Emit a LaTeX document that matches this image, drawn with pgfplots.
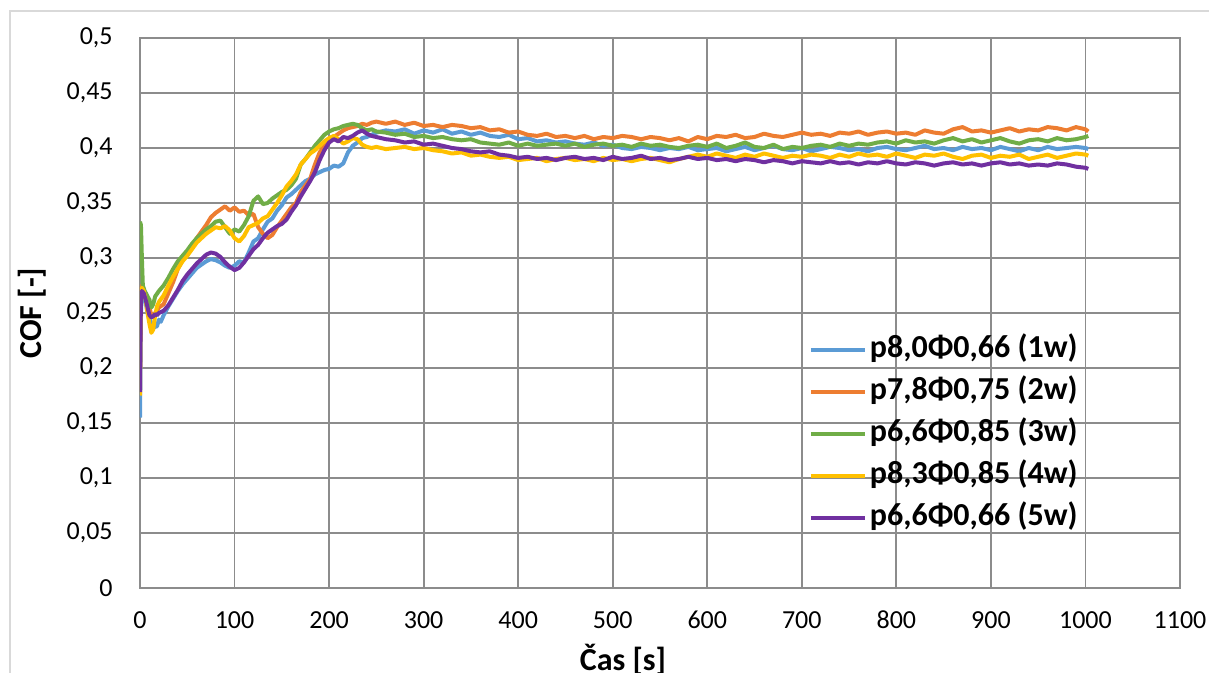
\documentclass[border=0pt]{standalone}
\usepackage{fontspec}
\setmainfont{Carlito}
\usepackage{pgfplots}
\pgfplotsset{compat=1.18}
\definecolor{c1}{HTML}{5B9BD5}
\definecolor{c2}{HTML}{ED7D31}
\definecolor{c3}{HTML}{70AD47}
\definecolor{c4}{HTML}{FFC000}
\definecolor{c5}{HTML}{7030A0}
\definecolor{gridc}{HTML}{8C8C8C}
\definecolor{borderc}{HTML}{D9D9D9}
\begin{document}
\begin{tikzpicture}
\path[use as bounding box] (-70pt,-42.5pt) rectangle (534.5pt,294pt);
\draw[borderc, line width=0.8pt] (-65pt,-60pt) -- (-65pt,288.5pt) -- (560pt,288.5pt);
\begin{axis}[
  at={(0,0)}, anchor=south west,
  scale only axis, width=520pt, height=275pt,
  xmin=0, xmax=1100, ymin=0, ymax=0.5,
  xtick={0,100,...,1100},
  ytick={0,0.05,0.1,0.15,0.2,0.25,0.3,0.35,0.4,0.45,0.5},
  grid=major,
  grid style={gridc, line width=0.9pt},
  axis line style={gridc, line width=0.9pt},
  major tick length=0pt,
  /pgf/number format/assume math mode=true,
  /pgf/number format/1000 sep={},
  yticklabel style={/pgf/number format/.cd, fixed, precision=2, use comma, /tikz/.cd, inner sep=0pt, anchor=east, xshift=-13.5pt},
  xticklabel style={inner sep=0pt, anchor=center, yshift=-16pt},
  tick label style={font=\fontsize{13}{15}\selectfont},
  xlabel={\textbf{Čas [s]}},
  ylabel={\textbf{COF [-]}},
  label style={font=\fontsize{16}{19}\selectfont},
  xlabel style={at={(axis description cs:0.4644,0)}, anchor=center, yshift=-36pt, inner sep=0pt},
  ylabel style={at={(axis description cs:-0.1038,0.5)}, anchor=center, inner sep=0pt},
  legend style={at={(0.637,0.47)}, anchor=north west, draw=none, fill=none,
    font=\bfseries\fontsize{16}{19}\selectfont,
    nodes={inner xsep=1.5pt, inner ysep=0pt, text height=12pt, text depth=4pt},
    row sep=5pt},
  legend cell align=left,
  legend image code/.code={\draw[#1, line width=2pt] (0pt,0pt) -- (27pt,0pt);},
  every axis plot/.append style={line width=2pt, line join=round},
]
\addplot[c1] coordinates {
(0,0.155)(1,0.25)(2,0.27)(4,0.268)(6,0.26)(8,0.25)(10,0.245)(12,0.24)(15,0.237)(18,0.238)(20,0.244)(22,0.242)(25,0.248)(30,0.256)(35,0.263)(40,0.27)(45,0.276)(50,0.281)(55,0.286)(60,0.291)(65,0.294)(70,0.297)(75,0.299)(80,0.298)(85,0.296)(90,0.293)(95,0.291)(100,0.293)(105,0.297)(110,0.296)(115,0.305)(120,0.315)(125,0.318)(130,0.326)(135,0.333)(140,0.336)(145,0.343)(150,0.348)(155,0.355)(160,0.358)(165,0.362)(170,0.366)(175,0.37)(180,0.372)(185,0.376)(190,0.378)(195,0.380)(200,0.381)(205,0.384)(210,0.383)(215,0.386)(220,0.396)(225,0.402)(230,0.405)(235,0.409)(240,0.41)(245,0.412)(250,0.414)(260,0.416)(270,0.415)(280,0.417)(290,0.413)(300,0.416)(310,0.414)(320,0.417)(330,0.413)(340,0.415)(350,0.412)(360,0.414)(370,0.411)(380,0.41)(390,0.412)(400,0.408)(410,0.409)(420,0.406)(430,0.407)(440,0.405)(450,0.406)(460,0.404)(470,0.403)(480,0.405)(490,0.402)(500,0.403)(510,0.4)(520,0.399)(530,0.401)(540,0.4)(550,0.398)(560,0.4)(570,0.399)(580,0.401)(590,0.398)(600,0.399)(610,0.4)(620,0.397)(630,0.399)(640,0.401)(650,0.398)(660,0.4)(670,0.402)(680,0.399)(690,0.398)(700,0.4)(710,0.397)(720,0.399)(730,0.401)(740,0.4)(750,0.398)(760,0.399)(770,0.397)(780,0.4)(790,0.401)(800,0.399)(810,0.398)(820,0.4)(830,0.402)(840,0.399)(850,0.4)(860,0.398)(870,0.401)(880,0.399)(890,0.4)(900,0.398)(910,0.401)(920,0.399)(930,0.397)(940,0.4)(950,0.398)(960,0.401)(970,0.399)(980,0.4)(990,0.401)(1000,0.4)(1003,0.399)
};
\addlegendentry{p8,0Φ0,66 (1w)}
\addplot[c2] coordinates {
(0,0.27)(2,0.275)(4,0.27)(6,0.268)(8,0.262)(10,0.255)(12,0.248)(14,0.246)(16,0.25)(18,0.252)(20,0.255)(25,0.258)(30,0.268)(35,0.278)(40,0.29)(45,0.298)(50,0.304)(55,0.31)(60,0.318)(65,0.324)(70,0.33)(75,0.337)(80,0.341)(85,0.344)(90,0.347)(95,0.343)(100,0.346)(105,0.342)(110,0.343)(115,0.339)(120,0.34)(125,0.328)(130,0.322)(135,0.318)(140,0.321)(145,0.328)(150,0.334)(155,0.34)(160,0.346)(165,0.35)(170,0.36)(175,0.366)(180,0.372)(185,0.385)(190,0.396)(195,0.402)(200,0.407)(205,0.41)(210,0.413)(215,0.416)(220,0.418)(225,0.419)(230,0.42)(235,0.422)(240,0.421)(245,0.423)(250,0.424)(260,0.422)(270,0.424)(280,0.421)(290,0.423)(300,0.42)(310,0.421)(320,0.419)(330,0.421)(340,0.42)(350,0.418)(360,0.419)(370,0.416)(380,0.417)(390,0.414)(400,0.415)(410,0.412)(420,0.411)(430,0.413)(440,0.41)(450,0.411)(460,0.409)(470,0.411)(480,0.408)(490,0.41)(500,0.409)(510,0.411)(520,0.41)(530,0.408)(540,0.41)(550,0.409)(560,0.407)(570,0.409)(580,0.406)(590,0.41)(600,0.408)(610,0.411)(620,0.41)(630,0.412)(640,0.409)(650,0.41)(660,0.413)(670,0.411)(680,0.41)(690,0.412)(700,0.414)(710,0.412)(720,0.413)(730,0.411)(740,0.414)(750,0.413)(760,0.415)(770,0.412)(780,0.414)(790,0.415)(800,0.413)(810,0.414)(820,0.412)(830,0.416)(840,0.414)(850,0.413)(860,0.417)(870,0.419)(880,0.415)(890,0.416)(900,0.414)(910,0.416)(920,0.418)(930,0.415)(940,0.417)(950,0.416)(960,0.419)(970,0.418)(980,0.416)(990,0.419)(1000,0.417)(1003,0.415)
};
\addlegendentry{p7,8Φ0,75 (2w)}
\addplot[c3] coordinates {
(0,0.333)(1,0.33)(2,0.3)(3,0.275)(5,0.27)(8,0.265)(10,0.262)(12,0.255)(14,0.258)(16,0.265)(20,0.27)(25,0.275)(30,0.282)(35,0.29)(40,0.297)(45,0.302)(50,0.307)(55,0.313)(60,0.318)(65,0.322)(70,0.326)(75,0.329)(80,0.333)(85,0.334)(90,0.328)(95,0.322)(100,0.326)(105,0.324)(110,0.33)(115,0.338)(120,0.352)(125,0.356)(130,0.349)(135,0.35)(140,0.354)(145,0.357)(150,0.36)(155,0.362)(160,0.366)(165,0.372)(170,0.385)(175,0.39)(180,0.396)(185,0.402)(190,0.407)(195,0.412)(200,0.415)(205,0.417)(210,0.418)(215,0.42)(220,0.421)(225,0.422)(230,0.421)(235,0.418)(240,0.416)(245,0.417)(250,0.415)(260,0.414)(270,0.412)(280,0.413)(290,0.41)(300,0.411)(310,0.409)(320,0.41)(330,0.408)(340,0.407)(350,0.408)(360,0.405)(370,0.404)(380,0.403)(390,0.405)(400,0.402)(410,0.404)(420,0.402)(430,0.403)(440,0.404)(450,0.402)(460,0.404)(470,0.401)(480,0.403)(490,0.404)(500,0.402)(510,0.403)(520,0.401)(530,0.404)(540,0.402)(550,0.403)(560,0.401)(570,0.4)(580,0.402)(590,0.403)(600,0.401)(610,0.404)(620,0.4)(630,0.402)(640,0.405)(650,0.401)(660,0.4)(670,0.403)(680,0.399)(690,0.401)(700,0.4)(710,0.402)(720,0.403)(730,0.401)(740,0.404)(750,0.402)(760,0.404)(770,0.403)(780,0.405)(790,0.406)(800,0.404)(810,0.407)(820,0.405)(830,0.406)(840,0.404)(850,0.407)(860,0.409)(870,0.406)(880,0.408)(890,0.405)(900,0.407)(910,0.409)(920,0.406)(930,0.404)(940,0.407)(950,0.408)(960,0.406)(970,0.409)(980,0.407)(990,0.408)(1000,0.41)(1003,0.411)
};
\addlegendentry{p6,6Φ0,85 (3w)}
\addplot[c4] coordinates {
(0,0.175)(1,0.27)(2,0.273)(4,0.27)(6,0.262)(8,0.25)(10,0.24)(12,0.232)(14,0.235)(16,0.248)(18,0.256)(20,0.26)(25,0.266)(30,0.275)(35,0.283)(40,0.29)(45,0.297)(50,0.302)(55,0.308)(60,0.314)(65,0.318)(70,0.322)(75,0.325)(80,0.328)(85,0.327)(90,0.329)(95,0.325)(100,0.318)(105,0.315)(110,0.32)(115,0.328)(120,0.33)(125,0.332)(130,0.336)(135,0.338)(140,0.344)(145,0.35)(150,0.357)(155,0.365)(160,0.37)(165,0.376)(170,0.385)(175,0.39)(180,0.395)(185,0.398)(190,0.402)(195,0.406)(200,0.409)(205,0.411)(210,0.408)(215,0.404)(220,0.406)(225,0.409)(230,0.408)(235,0.403)(240,0.401)(245,0.4)(250,0.401)(260,0.399)(270,0.4)(280,0.401)(290,0.399)(300,0.4)(310,0.398)(320,0.397)(330,0.395)(340,0.396)(350,0.393)(360,0.394)(370,0.392)(380,0.391)(390,0.392)(400,0.389)(410,0.39)(420,0.391)(430,0.388)(440,0.39)(450,0.391)(460,0.389)(470,0.39)(480,0.388)(490,0.391)(500,0.389)(510,0.39)(520,0.388)(530,0.39)(540,0.391)(550,0.389)(560,0.387)(570,0.39)(580,0.392)(590,0.394)(600,0.392)(610,0.395)(620,0.393)(630,0.391)(640,0.394)(650,0.392)(660,0.395)(670,0.393)(680,0.391)(690,0.393)(700,0.392)(710,0.394)(720,0.393)(730,0.391)(740,0.394)(750,0.392)(760,0.395)(770,0.393)(780,0.394)(790,0.392)(800,0.395)(810,0.393)(820,0.391)(830,0.394)(840,0.393)(850,0.395)(860,0.392)(870,0.39)(880,0.393)(890,0.394)(900,0.391)(910,0.393)(920,0.392)(930,0.394)(940,0.39)(950,0.392)(960,0.394)(970,0.391)(980,0.393)(990,0.395)(1000,0.394)(1003,0.393)
};
\addlegendentry{p8,3Φ0,85 (4w)}
\addplot[c5] coordinates {
(0,0.178)(1,0.265)(2,0.27)(4,0.268)(6,0.262)(8,0.255)(10,0.248)(12,0.246)(14,0.247)(16,0.249)(18,0.248)(20,0.25)(25,0.252)(30,0.257)(35,0.264)(40,0.271)(45,0.279)(50,0.285)(55,0.29)(60,0.295)(65,0.299)(70,0.303)(75,0.305)(80,0.304)(85,0.301)(90,0.296)(95,0.292)(100,0.289)(105,0.291)(110,0.296)(115,0.302)(120,0.308)(125,0.312)(130,0.318)(135,0.323)(140,0.326)(145,0.329)(150,0.331)(155,0.335)(160,0.342)(165,0.348)(170,0.356)(175,0.363)(180,0.37)(185,0.378)(190,0.389)(195,0.398)(200,0.405)(205,0.408)(210,0.406)(215,0.41)(220,0.409)(225,0.411)(230,0.414)(235,0.416)(240,0.413)(245,0.411)(250,0.41)(260,0.408)(270,0.407)(280,0.405)(290,0.406)(300,0.403)(310,0.404)(320,0.402)(330,0.4)(340,0.399)(350,0.397)(360,0.396)(370,0.397)(380,0.394)(390,0.393)(400,0.391)(410,0.392)(420,0.39)(430,0.391)(440,0.389)(450,0.391)(460,0.392)(470,0.39)(480,0.391)(490,0.389)(500,0.392)(510,0.39)(520,0.391)(530,0.393)(540,0.39)(550,0.391)(560,0.389)(570,0.39)(580,0.392)(590,0.39)(600,0.391)(610,0.389)(620,0.39)(630,0.388)(640,0.39)(650,0.389)(660,0.387)(670,0.389)(680,0.388)(690,0.386)(700,0.388)(710,0.387)(720,0.386)(730,0.388)(740,0.386)(750,0.387)(760,0.385)(770,0.387)(780,0.386)(790,0.388)(800,0.386)(810,0.385)(820,0.387)(830,0.386)(840,0.384)(850,0.386)(860,0.387)(870,0.385)(880,0.386)(890,0.384)(900,0.386)(910,0.387)(920,0.385)(930,0.386)(940,0.384)(950,0.385)(960,0.384)(970,0.386)(980,0.385)(990,0.383)(1000,0.382)(1003,0.381)
};
\addlegendentry{p6,6Φ0,66 (5w)}
\end{axis}
\end{tikzpicture}
\end{document}
